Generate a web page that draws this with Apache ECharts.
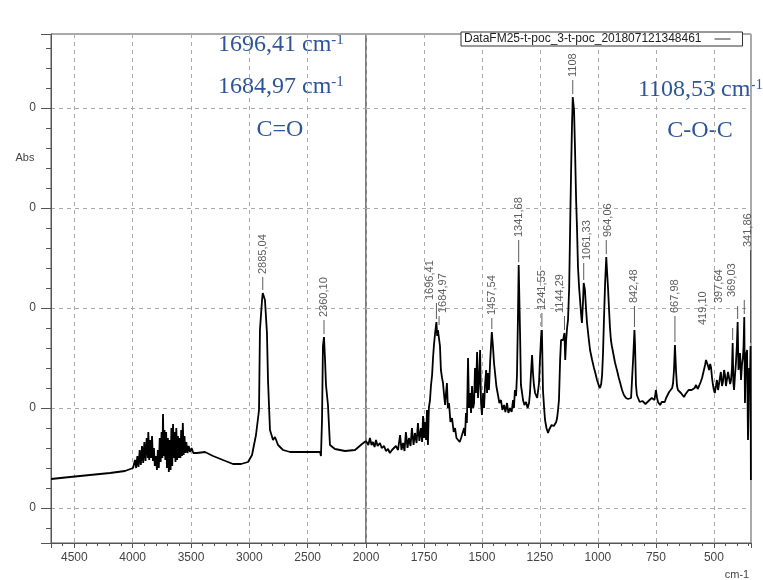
<!DOCTYPE html>
<html>
<head>
<meta charset="utf-8">
<script src="https://cdn.jsdelivr.net/npm/echarts@6/dist/echarts.min.js"></script>
<style>
    html, body { margin: 0; padding: 0; background: #fff; }
    #main { width: 763px; height: 580px; }
</style>
</head>
<body>
<div id="main"></div>
<script>
    // spectrum as [wavenumber cm-1, absorbance]
    // 4700 - 2000 cm-1 (drawn at half scale)
    var bandHigh = [
        [4700, 0.129], [4537, 0.131], [4366, 0.133], [4194, 0.135], [4066, 0.137], [3997, 0.140],
        [3990, 0.141], [3980, 0.148], [3970, 0.140], [3960, 0.152], [3950, 0.141], [3940, 0.158],
        [3930, 0.143], [3920, 0.162], [3910, 0.145], [3900, 0.166], [3890, 0.147], [3880, 0.170],
        [3870, 0.150], [3866, 0.176], [3858, 0.148], [3850, 0.168], [3842, 0.150], [3834, 0.172],
        [3826, 0.147], [3818, 0.160], [3810, 0.142], [3800, 0.152], [3792, 0.138], [3784, 0.158],
        [3776, 0.140], [3768, 0.170], [3760, 0.146], [3752, 0.176], [3745, 0.150], [3740, 0.194],
        [3734, 0.152], [3727, 0.178], [3720, 0.148], [3713, 0.176], [3706, 0.140], [3698, 0.170],
        [3690, 0.136], [3682, 0.168], [3675, 0.138], [3668, 0.180], [3661, 0.142], [3654, 0.184],
        [3647, 0.150], [3640, 0.176], [3633, 0.146], [3626, 0.180], [3619, 0.148], [3612, 0.172],
        [3605, 0.150], [3598, 0.170], [3591, 0.150], [3584, 0.178], [3577, 0.152], [3570, 0.185],
        [3563, 0.153], [3556, 0.172], [3548, 0.155], [3540, 0.166], [3530, 0.155], [3520, 0.162],
        [3508, 0.156], [3495, 0.160], [3480, 0.155], [3465, 0.157], [3449, 0.155], [3380, 0.156],
        [3311, 0.152], [3226, 0.148], [3140, 0.144], [3071, 0.144], [3011, 0.146], [2977, 0.153],
        [2943, 0.173], [2917, 0.198], [2909, 0.278], [2891, 0.308], [2885.04, 0.315], [2866, 0.308],
        [2849, 0.275], [2840, 0.228], [2823, 0.178], [2797, 0.168], [2780, 0.171], [2754, 0.163],
        [2711, 0.158], [2651, 0.156], [2566, 0.156], [2480, 0.156], [2394, 0.156], [2386, 0.152],
        [2377, 0.188], [2369, 0.262], [2360.10, 0.271], [2351, 0.248], [2343, 0.223], [2326, 0.203],
        [2309, 0.163], [2266, 0.159], [2180, 0.157], [2094, 0.158], [2034, 0.164], [2000, 0.167]
    ];
    // 2000 - 340 cm-1
    var bandLow = [
        [2000, 0.167], [1990, 0.163], [1983, 0.170], [1976, 0.163], [1970, 0.166], [1963, 0.161],
        [1957, 0.168], [1950, 0.162], [1940, 0.165], [1932, 0.160], [1922, 0.162], [1914, 0.157],
        [1905, 0.159], [1897, 0.155], [1888, 0.158], [1880, 0.156], [1871, 0.162], [1862, 0.158],
        [1853, 0.173], [1847, 0.158], [1840, 0.165], [1834, 0.157], [1828, 0.176], [1821, 0.160],
        [1815, 0.170], [1808, 0.162], [1802, 0.180], [1795, 0.163], [1789, 0.175], [1782, 0.165],
        [1776, 0.185], [1770, 0.167], [1763, 0.180], [1758, 0.166], [1754, 0.192], [1750, 0.170],
        [1746, 0.186], [1741, 0.168], [1737, 0.198], [1733, 0.163], [1729, 0.200], [1724, 0.208],
        [1720, 0.222], [1715, 0.233], [1711, 0.250], [1707, 0.263], [1702, 0.275], [1696.41, 0.286],
        [1693, 0.272], [1690, 0.278], [1684.97, 0.280], [1681, 0.262], [1677, 0.238], [1672, 0.230],
        [1668, 0.225], [1663, 0.212], [1659, 0.203], [1655, 0.215], [1651, 0.225], [1647, 0.200],
        [1642, 0.205], [1636, 0.186], [1629, 0.190], [1622, 0.176], [1616, 0.180], [1610, 0.170],
        [1603, 0.172], [1596, 0.166], [1590, 0.170], [1583, 0.168], [1577, 0.180], [1573, 0.172],
        [1569, 0.195], [1565, 0.185], [1560, 0.250], [1556, 0.200], [1552, 0.215], [1547, 0.195],
        [1543, 0.222], [1538, 0.200], [1534, 0.205], [1530, 0.240], [1526, 0.215], [1521, 0.256],
        [1517, 0.210], [1513, 0.225], [1508, 0.258], [1504, 0.205], [1500, 0.193], [1495, 0.215],
        [1491, 0.200], [1487, 0.222], [1482, 0.238], [1478, 0.215], [1474, 0.235], [1470, 0.218],
        [1465, 0.245], [1461, 0.262], [1457.54, 0.276], [1453, 0.263], [1448, 0.245], [1444, 0.236],
        [1438, 0.222], [1431, 0.213], [1425, 0.205], [1418, 0.208], [1412, 0.198], [1405, 0.203],
        [1399, 0.196], [1392, 0.205], [1386, 0.195], [1379, 0.200], [1372, 0.196], [1366, 0.208],
        [1362, 0.200], [1358, 0.218], [1353, 0.212], [1349, 0.233], [1345, 0.288], [1341.68, 0.343],
        [1338, 0.300], [1336, 0.278], [1332, 0.223], [1327, 0.215], [1323, 0.208], [1317, 0.203],
        [1310, 0.206], [1303, 0.200], [1297, 0.205], [1293, 0.215], [1289, 0.233], [1284, 0.253],
        [1280, 0.235], [1276, 0.223], [1271, 0.215], [1267, 0.213], [1262, 0.210], [1258, 0.208],
        [1254, 0.225], [1250, 0.248], [1245, 0.272], [1241.55, 0.278], [1237, 0.218], [1232, 0.200],
        [1228, 0.188], [1222, 0.180], [1215, 0.175], [1211, 0.178], [1207, 0.180], [1200, 0.183],
        [1194, 0.185], [1190, 0.182], [1185, 0.183], [1180, 0.186], [1176, 0.190], [1172, 0.198],
        [1168, 0.208], [1163, 0.248], [1159, 0.268], [1155, 0.270], [1150, 0.268], [1144.29, 0.275],
        [1141, 0.248], [1137, 0.268], [1133, 0.280], [1129, 0.288], [1124, 0.320], [1120, 0.378],
        [1116, 0.433], [1112, 0.481], [1108.53, 0.511], [1103, 0.498], [1099, 0.461], [1094, 0.408],
        [1090, 0.378], [1086, 0.341], [1081, 0.320], [1077, 0.308], [1073, 0.295], [1069, 0.285],
        [1064, 0.308], [1061.33, 0.325], [1056, 0.318], [1051, 0.298], [1047, 0.285], [1040, 0.270],
        [1034, 0.258], [1025, 0.248], [1017, 0.240], [1010, 0.234], [1004, 0.228], [997, 0.223],
        [991, 0.220], [986, 0.224], [982, 0.233], [978, 0.255], [974, 0.288], [969, 0.325],
        [964.06, 0.351], [961, 0.338], [956, 0.318], [952, 0.298], [948, 0.280], [944, 0.268],
        [940, 0.262], [935, 0.256], [926, 0.245], [918, 0.238], [910, 0.230], [905, 0.226],
        [896, 0.218], [888, 0.213], [879, 0.210], [870, 0.209], [862, 0.209], [857, 0.210],
        [853, 0.228], [848, 0.250], [842.48, 0.278], [840, 0.263], [836, 0.223], [832, 0.213],
        [827, 0.210], [820, 0.206], [814, 0.204], [808, 0.207], [801, 0.208], [795, 0.204],
        [788, 0.203], [782, 0.207], [775, 0.206], [768, 0.210], [762, 0.212], [756, 0.208],
        [750, 0.218], [745, 0.210], [741, 0.206], [736, 0.204], [732, 0.203], [725, 0.206],
        [719, 0.208], [712, 0.206], [706, 0.210], [699, 0.212], [693, 0.216], [686, 0.214],
        [680, 0.220], [676, 0.225], [672, 0.238], [667.98, 0.263], [663, 0.236], [659, 0.222],
        [655, 0.218], [648, 0.216], [642, 0.215], [635, 0.213], [629, 0.211], [622, 0.214],
        [616, 0.215], [609, 0.218], [603, 0.220], [596, 0.218], [590, 0.216], [583, 0.220],
        [577, 0.223], [570, 0.219], [564, 0.222], [557, 0.226], [551, 0.230], [545, 0.236],
        [538, 0.243], [534, 0.248], [530, 0.250], [525, 0.242], [521, 0.238], [516, 0.244],
        [512, 0.240], [508, 0.230], [504, 0.223], [500, 0.218], [496, 0.215], [491, 0.222],
        [487, 0.228], [482, 0.218], [478, 0.220], [474, 0.230], [470, 0.236], [465, 0.222],
        [461, 0.226], [456, 0.238], [452, 0.233], [448, 0.222], [443, 0.223], [439, 0.236],
        [435, 0.238], [430, 0.224], [426, 0.228], [422, 0.240], [419.10, 0.265], [416, 0.225],
        [413, 0.218], [409, 0.233], [405, 0.245], [401, 0.262], [397.64, 0.286], [394, 0.238],
        [390, 0.245], [387, 0.255], [383, 0.228], [379, 0.243], [375, 0.250], [372, 0.262],
        [369.03, 0.291], [366, 0.205], [363, 0.240], [361, 0.253], [357, 0.258], [353, 0.168],
        [350, 0.200], [348, 0.240], [345, 0.220], [341.86, 0.262], [340.5, 0.128]
    ];
    // labelled peaks (cm-1)
    var peakWavenumbers = [2885.04, 2360.10, 1696.41, 1684.97, 1457.54, 1341.68, 1241.55, 1144.29, 1108.53,
        1061.33, 964.06, 842.48, 667.98, 419.10, 397.64, 369.03, 341.86];
    // x axis break: 4700-2000 drawn at half the scale of 2000-340
    var wnMax = 4700, wnBreak = 2000, wnMin = 340;
    var absMin = 0.065, absMax = 0.574;
    var seriesName = 'DataFM25-t-poc_3-t-poc_201807121348461';

    // label placement: [gap above peak in px, sideways shift in px, max text width or 0]
    var labelNudge = [[19, 0, 0], [20, 0, 0], [22, -6, 0], [15, 4, 0], [17, 0, 0], [28, 0, 0], [20, 0, 0],
        [20, -4, 0], [20, 0, 26], [23, 3, 0], [20, 2, 0], [27, 0, 0], [32, 0, 0], [18, -30, 0],
        [19, -19, 0], [20, -12, 0], [99, -3, 0]];

    var highPart = bandHigh.map(function (p) { return [p[0], p[1]]; });
    var lowPart = bandLow.map(function (p) { return [-p[0], p[1]]; });

    function lookup(wn) {
        var all = bandHigh.concat(bandLow);
        for (var i = 0; i < all.length; i++) {
            if (all[i][0] === wn) return all[i][1];
        }
    }

    var highPeaks = [], lowPeaks = [];
    peakWavenumbers.forEach(function (wn, k) {
        var nudge = labelNudge[k];
        var lead = Math.max(nudge[0] - 6, 4);
        // label is turned 90deg, so its second offset moves it sideways on screen
        var label = {formatter: wn.toFixed(2).replace('.', ','), offset: [0, nudge[1]]};
        if (nudge[2]) {
            // top of this label is hidden behind the legend box in the original
            label.width = nudge[2];
            label.overflow = 'truncate';
            label.ellipsis = '';
        }
        var item = {
            value: [wn >= wnBreak ? wn : -wn, lookup(wn)],
            symbolSize: [1, lead],
            symbolOffset: [0, -(lead / 2 + 3)],
            label: label
        };
        if (wn >= wnBreak) highPeaks.push(item); else lowPeaks.push(item);
    });

    var font = 'Liberation Sans, Arial, sans-serif';
    var splitLine = {show: true, lineStyle: {color: '#aaa', type: [4, 4], width: 1}};

    function peakSeries(data, idx) {
        return {
            type: 'scatter', xAxisIndex: idx, yAxisIndex: idx, data: data, silent: true,
            symbol: 'rect', itemStyle: {color: '#333'}, z: 2,
            label: {
                show: true, position: 'top', rotate: 90, align: 'left', verticalAlign: 'middle',
                distance: 3, fontSize: 11, color: '#333', fontFamily: font
            }
        };
    }

    function annot(main, sup, align) {
        return {
            text: sup ? '{n|' + main + '}{s|' + sup + '}' : '{n|' + main + '}',
            fill: '#2E5597', align: align || 'left', verticalAlign: 'middle',
            rich: {
                n: {font: '24px "Liberation Serif", "Times New Roman", serif', fill: '#2E5597'},
                s: {font: '15px "Liberation Serif", "Times New Roman", serif', fill: '#2E5597', verticalAlign: 'top'}
            }
        };
    }

    var option = {
        animation: false,
        backgroundColor: '#fff',
        legend: {
            data: [seriesName], left: 461, top: 32, align: 'right', z: 100,
            icon: 'rect', padding: [1, 12, 1, 3], itemWidth: 16, itemHeight: 1,
            backgroundColor: '#fff', borderColor: '#333', borderWidth: 1, borderRadius: 0,
            itemStyle: {color: '#333'},
            textStyle: {fontSize: 12, color: '#222', fontFamily: font, padding: [0, 8, 0, 0]}
        },
        grid: [
            {left: 51, top: 34, width: 315, height: 509, show: true, borderColor: '#555', borderWidth: 1},
            {left: 366, top: 34, width: 385, height: 509, show: true, borderColor: '#555', borderWidth: 1}
        ],
        xAxis: [
            {
                type: 'value', gridIndex: 0, min: wnBreak, max: wnMax, interval: 500, inverse: true,
                axisLine: {lineStyle: {color: '#555'}},
                axisTick: {length: 5, lineStyle: {color: '#555'}},
                minorTick: {show: true, splitNumber: 5, length: 3, lineStyle: {color: '#555'}},
                axisLabel: {
                    fontSize: 12, color: '#444', fontFamily: font, margin: 9,
                    formatter: function (v) { return v % 500 === 0 ? String(v) : ''; }
                },
                splitLine: splitLine
            },
            {
                type: 'value', gridIndex: 1, min: -wnBreak, max: -wnMin, interval: 250,
                axisLine: {lineStyle: {color: '#555'}},
                axisTick: {length: 5, lineStyle: {color: '#555'}},
                minorTick: {show: true, splitNumber: 5, length: 3, lineStyle: {color: '#555'}},
                axisLabel: {
                    fontSize: 12, color: '#444', fontFamily: font, margin: 9,
                    formatter: function (v) {
                        var w = -v;
                        return (w % 250 === 0 && w !== wnBreak) ? String(w) : '';
                    }
                },
                splitLine: splitLine
            }
        ],
        yAxis: [
            {
                type: 'value', gridIndex: 0, min: absMin, max: absMax,
                axisLine: {show: true, lineStyle: {color: '#555'}},
                axisTick: {show: true, length: 10, lineStyle: {color: '#555'}},
                minorTick: {show: true, splitNumber: 5, length: 5, lineStyle: {color: '#555'}},
                axisLabel: {
                    fontSize: 12, color: '#444', fontFamily: font, margin: 15,
                    // the instrument printed every tick rounded down to a whole number
                    formatter: function (v) {
                        return Math.abs(v * 10 - Math.round(v * 10)) < 1e-6 ? String(Math.trunc(v)) : '';
                    }
                },
                splitLine: splitLine
            },
            {
                type: 'value', gridIndex: 1, min: absMin, max: absMax,
                axisLine: {show: false}, axisTick: {show: false}, axisLabel: {show: false},
                splitLine: splitLine
            }
        ],
        graphic: [
            {type: 'text', x: 25, y: 158, style: {text: 'Abs', fill: '#444', font: '11px ' + font, align: 'center', verticalAlign: 'middle'}},
            {type: 'text', x: 737, y: 575, style: {text: 'cm-1', fill: '#444', font: '11px ' + font, align: 'center', verticalAlign: 'middle'}},
            {type: 'text', x: 218, y: 45, style: annot('1696,41 cm', '-1')},
            {type: 'text', x: 218, y: 87, style: annot('1684,97 cm', '-1')},
            {type: 'text', x: 280, y: 130, style: annot('C=O', '', 'center')},
            {type: 'text', x: 638, y: 90, style: annot('1108,53 cm', '-1')},
            {type: 'text', x: 700, y: 131, style: annot('C-O-C', '', 'center')}
        ],
        series: [
            {
                name: seriesName, type: 'line', xAxisIndex: 0, yAxisIndex: 0, data: highPart,
                symbol: 'none', lineStyle: {color: '#000', width: 1.8}, itemStyle: {color: '#000'}
            },
            {
                name: seriesName, type: 'line', xAxisIndex: 1, yAxisIndex: 1, data: lowPart,
                symbol: 'none', lineStyle: {color: '#000', width: 1.8}, itemStyle: {color: '#000'}
            },
            peakSeries(highPeaks, 0),
            peakSeries(lowPeaks, 1)
        ]
    };

    var chart = echarts.init(document.getElementById('main'));
    chart.setOption(option);
</script>
</body>
</html>
